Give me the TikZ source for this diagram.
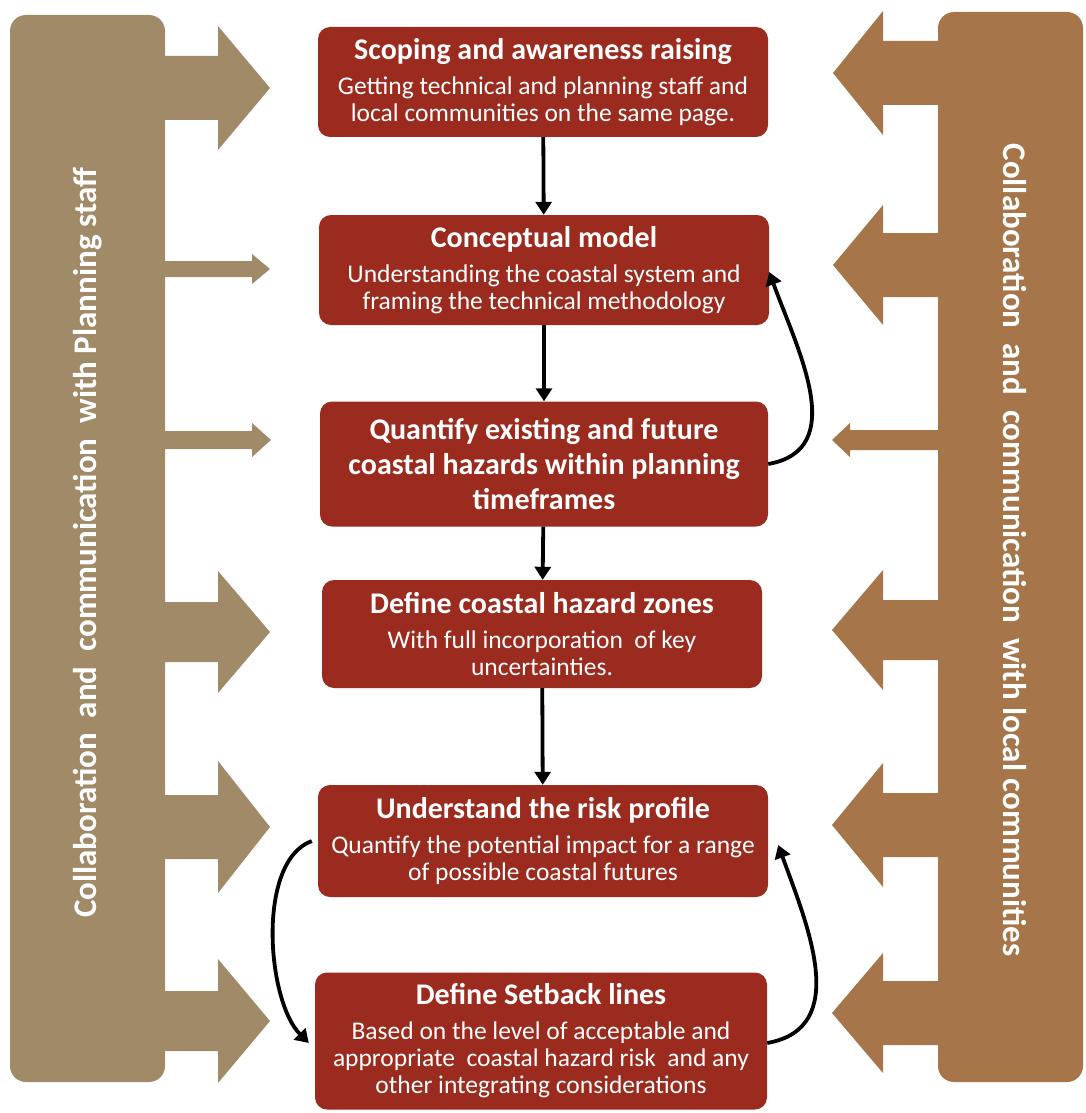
\documentclass[tikz,border=0pt]{standalone}
\usepackage{fontspec}
\setmainfont{Carlito}
\usetikzlibrary{arrows.meta}

\definecolor{stagered}{RGB}{155,43,30}
\definecolor{plancol}{RGB}{160,138,104}
\definecolor{localcol}{RGB}{166,117,74}

\newcommand{\titletext}[1]{{\fontsize{30}{35}\selectfont\bfseries #1}}
% block arrows out of the two side bars
\newcommand{\planarrow}[5]{\fill[plancol] (160,{-(#1-#2)}) -- (#4,{-(#1-#2)}) -- (#4,{-(#1-#3)}) -- (#5,-#1) -- (#4,{-(#1+#3)}) -- (#4,{-(#1+#2)}) -- (160,{-(#1+#2)}) -- cycle;}
\newcommand{\localarrow}[5]{\fill[localcol] (943,{-(#1-#2)}) -- (#4,{-(#1-#2)}) -- (#4,{-(#1-#3)}) -- (#5,-#1) -- (#4,{-(#1+#3)}) -- (#4,{-(#1+#2)}) -- (943,{-(#1+#2)}) -- cycle;}

\begin{document}
\begin{tikzpicture}[x=1pt, y=1pt]
  \tikzstyle{stage} = [rectangle, rounded corners=12pt, fill=stagered, text=white, align=center, inner sep=0pt, minimum width=450pt, minimum height=110pt, font=\fontsize{25.5}{27}\selectfont]
  \tikzstyle{flow} = [line width=3.8pt, -{Triangle[length=13pt, width=16pt]}]
  \tikzstyle{bartext} = [text=white, font=\fontsize{33}{38}\selectfont\bfseries]

  \useasboundingbox (0,0) rectangle (1085,-1113);

  % side bars
  \fill[plancol, rounded corners=16pt] (10,-15) rectangle (165,-1082);
  \fill[localcol, rounded corners=16pt] (938,-12) rectangle (1083,-1082);

  \planarrow{88}{32}{62}{218}{270}
  \planarrow{269}{8}{15}{252}{270}
  \planarrow{440}{9}{17}{252}{271}
  \planarrow{632}{30}{61}{218}{270}
  \planarrow{827}{32}{66}{218}{270}
  \planarrow{1021}{30}{62}{218}{270}

  \localarrow{73}{32}{62}{883}{833}
  \localarrow{265}{32}{60}{883}{833}
  \localarrow{440}{10}{17}{850}{832}
  \localarrow{630}{30}{60}{883}{832}
  \localarrow{825}{32}{62}{883}{832}
  \localarrow{1013}{32}{60}{883}{832}

  \node[bartext, rotate=90] (plantext) at (88,-543) {Collaboration\ \ and\ \ communication\ \ with Planning staff};
  \node[bartext, rotate=-90] (localtext) at (1015,-550) {Collaboration\ \ and\ \ communication\ \ with local communities};

  % stages
  \node[stage] (scope) at (543,-82) {\titletext{Scoping and awareness raising}\\[8pt] Getting technical and planning staff and\\ local communities on the same page.};
  \node[stage] (model) at (544,-270) {\titletext{Conceptual model}\\[8pt] Understanding the coastal system and\\ framing the technical methodology};
  \node[stage, minimum width=448pt, minimum height=125pt] (quant) at (544,-464) {\titletext{Quantify existing and future}\\[8pt] \titletext{coastal hazards within planning}\\[8pt] \titletext{timeframes}};
  \node[stage, minimum width=440pt, minimum height=108pt] (zones) at (542,-634) {\titletext{Define coastal hazard zones}\\[8pt] With full incorporation\ \ of key\\ uncertainties.};
  \node[stage, minimum height=112pt] (risk) at (543,-841) {\titletext{Understand the risk profile}\\[8pt] Quantify the potential impact for a range\\ of possible coastal futures};
  \node[stage, minimum width=452pt, minimum height=137pt] (setback) at (541,-1041) {\titletext{Define Setback lines}\\[8pt] Based on the level of acceptable and\\ appropriate\ \ coastal hazard risk\ \ and any\\ other integrating considerations};

  \draw[flow] (scope) -- (model);
  \draw[flow] (model) -- (quant);
  \draw[flow] (quant) -- (zones);
  \draw[flow] (zones) -- (risk);
  \draw[flow] (quant.east) to[out=10, in=-70, looseness=1.1] ([yshift=-2pt]model.east);
  \draw[flow] ([xshift=-6pt]risk.west) to[out=200, in=135, looseness=0.75] ([xshift=-6pt, yshift=-2pt]setback.west);
  \draw[flow] ([yshift=-2pt]setback.east) to[out=10, in=-70, looseness=1.1] ([xshift=10pt, yshift=-4pt]risk.east);
\end{tikzpicture}
\end{document}
